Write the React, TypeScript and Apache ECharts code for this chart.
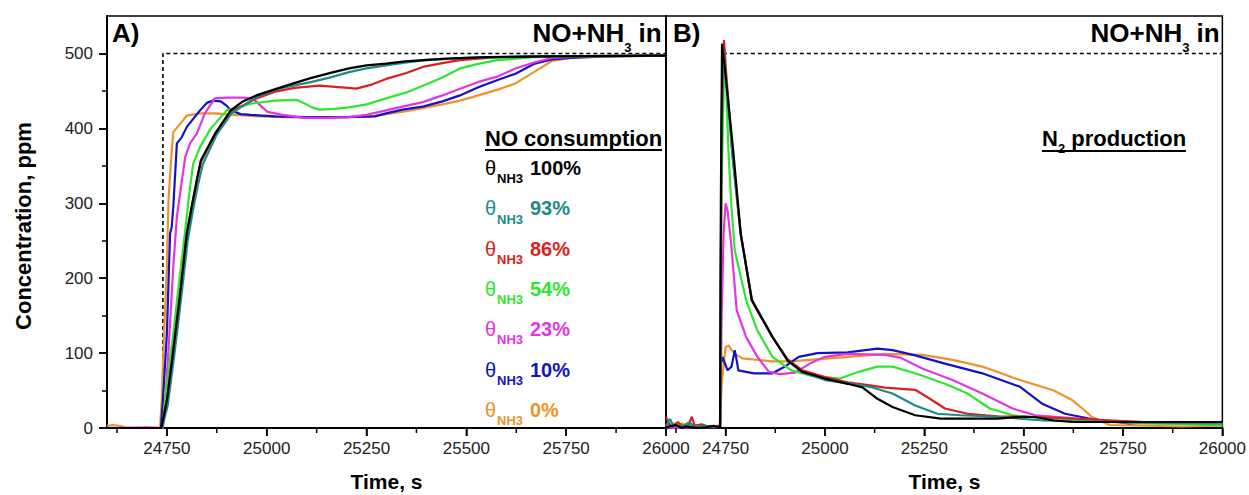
import React, { useEffect, useRef } from "react";
import * as echarts from "echarts";

const FONT = 'Arial, "Liberation Sans", Helvetica, sans-serif';

// Axis ticks / labels
const timeMin = 24600;
const timeMax = 26000;
const timeTicks = [24750, 25000, 25250, 25500, 25750, 26000];
const timeMinor = [24625, 24875, 25125, 25375, 25625, 25875];
const concTicks = [0, 100, 200, 300, 400, 500];
const concMinor = [50, 150, 250, 350, 450];

// Legend entries (NH3 coverage) and colours, top to bottom
const coverages = ["100%", "93%", "86%", "54%", "23%", "10%", "0%"];
const colors = ["#000000", "#1e8a8a", "#dc1e1e", "#2ee62e", "#e335e3", "#1212c8", "#f0922a"];

// Feed step (NO+NH3 in, 500 ppm)
const feedStepA: [number, number][] = [[24740, 0], [24740, 500], [26000, 500]];
const feedStepB: [number, number][] = [[24743, 500], [26000, 500]];

// ---------- Panel A: NO consumption (NO outlet concentration) ----------
const aBlack: [number, number][] = [[24600,0],[24700,0],[24736,0],[24750,37],[24766,104],[24783,179],[24800,260],[24812,295],[24825,331],[24835,357],[24872,394],[24910,424],[24940,436],[24974,444],[25020,452],[25067,460],[25110,467],[25160,474],[25206,480],[25250,484],[25299,486.5],[25340,489],[25391,491],[25450,493],[25550,495],[25700,496],[26000,497]];
const aTeal: [number, number][] = [[24600,0],[24700,0],[24738,0],[24752,30],[24768,95],[24785,170],[24802,250],[24815,290],[24828,325],[24840,352],[24875,392],[24912,420],[24974,442],[25030,453],[25067,457],[25113,462],[25160,468],[25206,475],[25250,480],[25299,484],[25350,488],[25400,491],[25500,494],[25650,496],[26000,497]];
const aRed: [number, number][] = [[24600,0],[24700,0],[24737,0],[24750,37],[24766,104],[24783,179],[24800,260],[24812,295],[24825,331],[24835,355],[24872,394],[24910,422],[24974,440],[25021,449],[25070,454],[25132,457],[25180,455],[25225,453],[25260,458],[25299,466],[25350,474],[25391,482],[25440,487],[25484,491],[25577,495],[25700,496],[26000,497]];
const aGreen: [number, number][] = [[24600,0],[24700,0],[24738,0],[24740,9],[24750,59],[24766,126],[24783,206],[24796,264],[24808,322],[24816,353],[24833,375],[24860,400],[24900,424],[24960,433],[25021,437],[25076,438],[25100,432],[25113,428],[25132,425],[25170,426],[25206,428],[25250,432],[25299,440],[25350,448],[25391,457],[25440,468],[25484,480],[25530,486],[25577,491],[25669,495],[25800,496],[26000,497]];
const aMagenta: [number, number][] = [[24600,0],[24700,1],[24740,0],[24746,37],[24754,104],[24766,215],[24775,282],[24783,313],[24796,362],[24808,380],[24825,393],[24845,420],[24870,440],[24900,441],[24940,441],[24965,440],[24985,430],[25002,422],[25040,418],[25095,414],[25150,414],[25206,415],[25250,418],[25299,424],[25340,429],[25391,435],[25440,444],[25484,453],[25530,462],[25577,469],[25623,480],[25669,488],[25714,494],[25800,496],[26000,497]];
const aBlue: [number, number][] = [[24600,0],[24700,0],[24735,0],[24740,37],[24750,126],[24758,260],[24762,268],[24766,295],[24775,380],[24787,388],[24800,402],[24833,424],[24850,434],[24865,437],[24885,436],[24900,430],[24910,424],[24935,419],[24960,418],[25021,416],[25100,415],[25200,415],[25271,416],[25299,420],[25340,425],[25391,429],[25440,436],[25484,444],[25530,455],[25580,465],[25623,473],[25669,486],[25714,492],[25761,494],[25850,496],[26000,497]];
const aOrange: [number, number][] = [[24600,3],[24615,4],[24630,3],[24645,1],[24660,0],[24700,0],[24733,0],[24737,37],[24743,126],[24750,215],[24754,304],[24762,370],[24766,395],[24783,406],[24800,417],[24833,420],[24870,420],[24920,418],[24980,416],[25050,415],[25120,414],[25200,415],[25260,416],[25300,419],[25350,423],[25391,427],[25440,432],[25484,437],[25530,444],[25580,452],[25623,460],[25669,475],[25714,490],[25761,494],[25820,496],[25900,497],[26000,497]];

// ---------- Panel B: N2 production ----------
const bBlack: [number, number][] = [[24600,1],[24625,4],[24640,0],[24650,2],[24680,0],[24700,1],[24720,3],[24736,0],[24738,300],[24741,513],[24750,470],[24769,371],[24788,259.5],[24816,170.5],[24830,157],[24868,121.5],[24906,90],[24943,75],[25000,66],[25057,59],[25095,54],[25132,39],[25170,28],[25227,17],[25292,12.5],[25434,12.5],[25500,15],[25529,14.7],[25576,10],[25623,8],[25800,8],[26000,8]];
const bTeal: [number, number][] = [[24600,3],[24610,12],[24618,3],[24640,2],[24660,8],[24668,2],[24700,3],[24736,1],[24740,420],[24744,505],[24752,460],[24768,360],[24788,259],[24816,172],[24830,158],[24868,122],[24906,91],[24943,74],[25000,64],[25057,60],[25113,55],[25170,46],[25227,30],[25283,19],[25340,17],[25434,15],[25550,10],[25800,7],[26000,6]];
const bRed: [number, number][] = [[24600,15],[24608,5],[24615,2],[24630,8],[24640,3],[24655,2],[24665,15],[24672,3],[24690,5],[24710,1],[24730,3],[24736,2],[24740,400],[24746,518],[24752,470],[24768,360],[24788,259],[24816,170],[24830,157],[24868,121],[24906,92],[24943,77],[25000,68],[25057,61],[25113,57],[25151,54],[25227,51],[25264,39],[25302,26],[25359,19],[25434,15.5],[25529,14.7],[25650,12],[25800,8],[26000,7]];
const bGreen: [number, number][] = [[24600,3],[24620,6],[24640,2],[24670,4],[24700,1],[24736,2],[24739,300],[24747,500],[24752,450],[24757,371],[24764,300],[24773,237],[24802,170],[24830,130],[24868,95],[24915,77],[24962,70],[25038,66],[25085,75],[25132,82],[25170,82],[25227,73],[25302,59],[25359,46],[25415,26],[25472,17],[25529,14],[25650,10],[25800,6],[26000,4]];
const bMagenta: [number, number][] = [[24600,1],[24630,0],[24680,2],[24736,1],[24740,150],[24745,260],[24750,300],[24755,290],[24764,246],[24778,157],[24802,121],[24830,95],[24859,75],[24887,72],[24925,74],[24962,86],[25000,95],[25057,99],[25151,97.6],[25189,94],[25246,79],[25321,64],[25396,46],[25472,26],[25529,17],[25604,14],[25700,10],[25850,7],[26000,6]];
const bBlue: [number, number][] = [[24600,0],[24620,1],[24650,0],[24700,1],[24736,0],[24738,85],[24742,95],[24755,77],[24765,82],[24773,104],[24778,90],[24782,77],[24821,73],[24868,73],[24896,81],[24934,95],[24981,100],[25057,101],[25132,106],[25170,104],[25227,97],[25302,86],[25396,73],[25491,55],[25548,32],[25604,19],[25671,12],[25765,6],[25850,8],[25950,6],[26000,7]];
const bOrange: [number, number][] = [[24600,2],[24615,5],[24625,3],[24640,6],[24655,2],[24670,4],[24690,1],[24710,3],[24730,2],[24736,3],[24740,59],[24750,108],[24758,110],[24765,104],[24773,99],[24792,93],[24868,89],[24915,89],[24962,91],[25057,95],[25151,99],[25246,97.6],[25321,91],[25396,82],[25491,64],[25576,50],[25623,37],[25650,25],[25671,15],[25717,4],[25812,3],[25900,2],[26000,3]];

const panelA = [aBlack, aTeal, aRed, aGreen, aMagenta, aBlue, aOrange];
const panelB = [bBlack, bTeal, bRed, bGreen, bMagenta, bBlue, bOrange];

function lineSeries(name: string, data: [number, number][], color: string, xi: number, yi: number, z: number) {
  return {
    type: "line",
    name,
    data,
    xAxisIndex: xi,
    yAxisIndex: yi,
    showSymbol: false,
    symbol: "none",
    silent: true,
    clip: true,
    z,
    lineStyle: { color, width: 2.2 },
    itemStyle: { color },
  };
}

function dashSeries(data: [number, number][], xi: number, yi: number) {
  return {
    type: "line",
    data,
    xAxisIndex: xi,
    yAxisIndex: yi,
    showSymbol: false,
    symbol: "none",
    silent: true,
    z: 1,
    lineStyle: { color: "#000", width: 1.6, type: [4, 3] },
  };
}

// Tick marks on the time axis, placed through the axis scale (api.coord)
function xTickSeries(values: number[], length: number, xi: number, yi: number) {
  return {
    type: "custom",
    xAxisIndex: xi,
    yAxisIndex: yi,
    silent: true,
    clip: false,
    z: 50,
    encode: { x: 0, y: 1 },
    data: values.map((v) => [v, 0]),
    renderItem: (params: any, api: any) => {
      const p = api.coord([api.value(0), 0]);
      return {
        type: "line",
        shape: { x1: p[0], y1: p[1], x2: p[0], y2: p[1] + length },
        style: { stroke: "#000", lineWidth: 1.5 },
      };
    },
  };
}

function txt(text: string, x: number, y: number, size: number, color: string, bold: boolean, align = "left", rotation = 0) {
  return {
    type: "text",
    x,
    y,
    rotation,
    z: 100,
    silent: true,
    style: {
      text,
      fill: color,
      fontSize: size,
      fontWeight: bold ? "bold" : "normal",
      fontFamily: FONT,
      align,
      verticalAlign: "middle",
      textAlign: align,
      textVerticalAlign: "middle",
    },
  };
}

const plain = (v: number) => String(Math.round(v));

export default function App() {
  const ref = useRef<HTMLDivElement>(null);

  useEffect(() => {
    document.body.style.margin = "0";
    if (!ref.current) return;
    const chart = echarts.init(ref.current, null, { renderer: "svg" });

    const tickLine = { color: "#000", width: 1.5 };
    const labelStyle = { fontSize: 17, color: "#222", fontFamily: FONT, formatter: plain };

    const TOP = 16;
    const H = 412;
    const panels = [
      { left: 107, width: 559 },
      { left: 666, width: 557 },
    ];

    const grids: any[] = [];
    const xAxes: any[] = [];
    const yAxes: any[] = [];

    panels.forEach((p, gi) => {
      grids.push({ left: p.left, top: TOP, width: p.width, height: H, show: true, borderColor: "#000", borderWidth: 1.5, backgroundColor: "transparent" });
      xAxes.push({
        gridIndex: gi,
        type: "value",
        min: timeMin,
        max: timeMax,
        position: "bottom",
        axisLine: { show: true, onZero: false, lineStyle: { color: "#000", width: 2 } },
        axisTick: { show: true, inside: false, customValues: timeTicks, length: 8, lineStyle: tickLine },
        axisLabel: { show: true, customValues: timeTicks, margin: 12, ...labelStyle },
        splitLine: { show: false },
      });
    });
    yAxes.push({
      gridIndex: 0,
      type: "value",
      min: 0,
      max: 550,
      position: "left",
      axisLine: { show: true, onZero: false, lineStyle: { color: "#000", width: 2 } },
      axisTick: { show: true, inside: false, customValues: concTicks, length: 8, lineStyle: tickLine },
      axisLabel: { show: true, customValues: concTicks, margin: 14, ...labelStyle },
      splitLine: { show: false },
    });
    yAxes.push({
      gridIndex: 1,
      type: "value",
      min: 0,
      max: 550,
      position: "left",
      axisLine: { show: true, onZero: false, lineStyle: { color: "#000", width: 1.5 } },
      axisTick: { show: false },
      axisLabel: { show: false },
      splitLine: { show: false },
    });
    [
      { values: concTicks, length: 8 },
      { values: concMinor, length: 5 },
    ].forEach((t) => {
      yAxes.push({
        gridIndex: 0,
        type: "value",
        min: 0,
        max: 550,
        position: "left",
        axisLine: { show: false, onZero: false },
        axisTick: { show: true, inside: false, customValues: t.values, length: t.length, lineStyle: tickLine },
        axisLabel: { show: false },
        splitLine: { show: false },
      });
    });

    const graphics: any[] = [];
    graphics.push(txt("Concentration, ppm", 23, 226, 22, "#000", true, "center", Math.PI / 2));
    graphics.push(txt("Time, s", 386.5, 481, 21, "#000", true, "center"));
    graphics.push(txt("Time, s", 944.5, 481, 21, "#000", true, "center"));
    graphics.push(txt("A)", 112, 33, 26, "#000", true));
    graphics.push(txt("B)", 673, 33, 26, "#000", true));
    [532.5, 1090.5].forEach((L) => {
      graphics.push(txt("NO+NH", L, 33, 26, "#000", true));
      graphics.push(txt("3", L + 91.7, 47.5, 13, "#000", true));
      graphics.push(txt("in", L + 91.7 + 7.2 + 7.2, 33, 26, "#000", true));
    });
    graphics.push(txt("NO consumption", 485, 138, 22, "#000", true));
    graphics.push({ type: "rect", z: 100, silent: true, shape: { x: 485, y: 149, width: 177, height: 2 }, style: { fill: "#000" } });
    coverages.forEach((c, i) => {
      const y = 168 + i * 40.3;
      graphics.push(txt("\u03b8", 485, y, 20, colors[i], false));
      graphics.push(txt("NH3", 497, y + 10.7, 13, colors[i], true));
      graphics.push(txt(c, 530, y, 20, colors[i], true));
    });
    graphics.push(txt("N", 1042, 138, 22, "#000", true));
    graphics.push(txt("2", 1057.9, 148.5, 13, "#000", true));
    graphics.push(txt("production", 1071.3, 138, 22, "#000", true));
    graphics.push({ type: "rect", z: 100, silent: true, shape: { x: 1042, y: 150, width: 144, height: 2 }, style: { fill: "#000" } });

    const series: any[] = [];
    series.push(dashSeries(feedStepA, 0, 0));
    series.push(dashSeries(feedStepB, 1, 1));
    for (let i = coverages.length - 1; i >= 0; i--) {
      series.push(lineSeries("A " + coverages[i], panelA[i], colors[i], 0, 0, 2 + (coverages.length - i)));
    }
    for (let i = coverages.length - 1; i >= 0; i--) {
      series.push(lineSeries("B " + coverages[i], panelB[i], colors[i], 1, 1, 2 + (coverages.length - i)));
    }
    [0, 1].forEach((gi) => {
      series.push(xTickSeries(timeTicks, 8, gi, gi));
      series.push(xTickSeries(timeMinor, 5, gi, gi));
    });

    chart.setOption({
      animation: false,
      backgroundColor: "#fff",
      textStyle: { fontFamily: FONT },
      grid: grids,
      xAxis: xAxes,
      yAxis: yAxes,
      series,
      graphic: graphics,
    });

    return () => chart.dispose();
  }, []);

  return <div ref={ref} style={{ width: 1249, height: 495 }} />;
}
